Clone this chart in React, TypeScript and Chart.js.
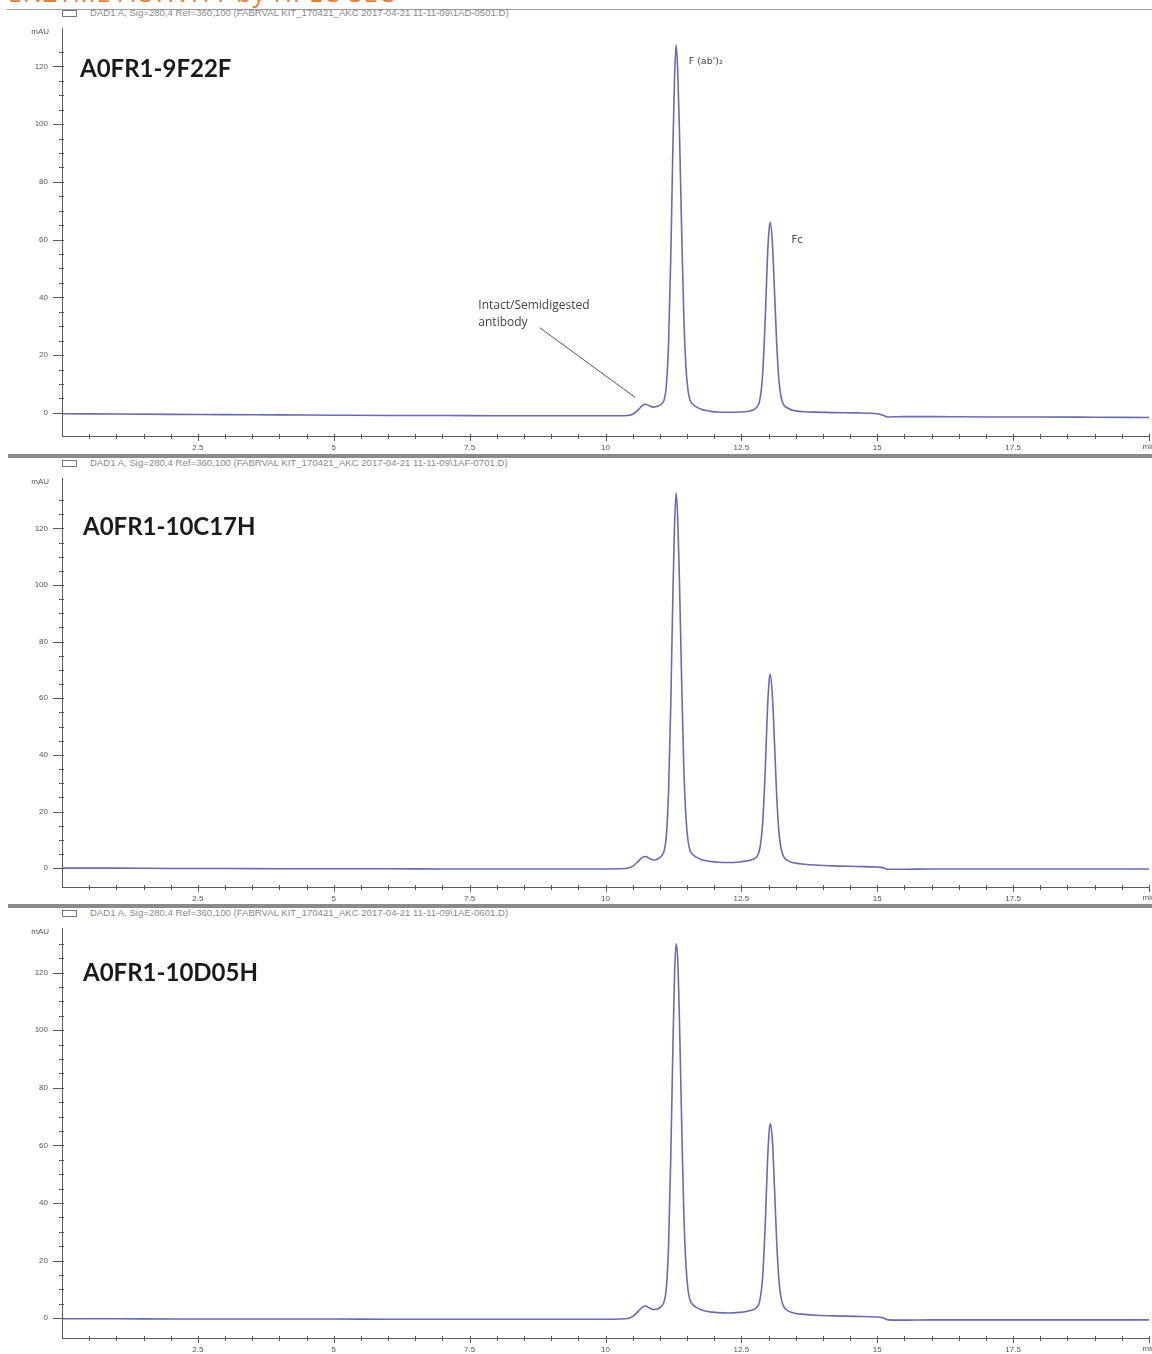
import React, { useEffect, useRef } from 'react';
import { Chart, registerables } from 'chart.js';
Chart.register(...registerables);

// Retention time (min)
const timeMin = [0, 1, 2, 3, 4, 5, 6, 7, 8, 9, 9.8, 10.25, 10.41, 10.51, 10.61, 10.68, 10.74, 10.81, 10.88, 10.94, 11.0, 11.04, 11.08, 11.12, 11.16, 11.2, 11.24, 11.27, 11.3, 11.33, 11.36, 11.4, 11.44, 11.48, 11.52, 11.56, 11.61, 11.66, 11.76, 11.86, 11.96, 12.06, 12.26, 12.46, 12.61, 12.71, 12.78, 12.84, 12.89, 12.94, 12.98, 13.01, 13.03, 13.07, 13.11, 13.15, 13.19, 13.23, 13.28, 13.36, 13.46, 13.66, 13.86, 14.2, 14.6, 15.0, 15.1, 15.2, 15.5, 16, 17, 18, 19, 20];

// Absorbance (mAU) – A0FR1-9F22F
const signal9F22F = [-0.3, -0.4, -0.5, -0.6, -0.7, -0.8, -0.9, -0.9, -1.0, -1.0, -1.0, -1.0, -0.9, -0.4, 1.2, 2.6, 3.0, 2.4, 2.0, 2.2, 2.6, 3.3, 4.6, 9.5, 24, 53, 92, 116, 127.5, 118, 98, 64, 34, 16, 7.5, 4.2, 3.0, 2.2, 1.3, 0.8, 0.45, 0.3, 0.2, 0.3, 0.5, 1.0, 1.9, 4.5, 13, 33, 54, 63.5, 66, 59, 42, 24, 11.5, 5.5, 2.8, 1.6, 0.8, 0.4, 0.25, 0.1, 0, -0.3, -0.8, -1.4, -1.3, -1.3, -1.4, -1.4, -1.5, -1.6];

// Absorbance (mAU) – A0FR1-10C17H
const signal10C17H = [0, 0, -0.1, -0.1, -0.2, -0.2, -0.2, -0.3, -0.3, -0.3, -0.3, -0.2, 0, 0.8, 2.6, 3.8, 4.1, 3.4, 2.9, 3.1, 3.7, 4.6, 6.2, 11.5, 27, 57, 97, 121, 132.5, 123, 102, 67, 36, 18, 9.5, 6, 4.8, 4.0, 3.1, 2.6, 2.3, 2.1, 2.0, 2.2, 2.6, 3.1, 4.0, 7, 15.5, 35, 56, 66, 68.5, 61, 44, 25.5, 13, 7, 4, 2.6, 1.9, 1.4, 1.1, 0.8, 0.6, 0.4, 0.2, -0.4, -0.4, -0.3, -0.3, -0.3, -0.3, -0.3];

// Absorbance (mAU) – A0FR1-10D05H
const signal10D05H = [-0.2, -0.2, -0.3, -0.3, -0.3, -0.3, -0.4, -0.4, -0.4, -0.4, -0.4, -0.3, -0.1, 0.7, 2.5, 3.8, 4.2, 3.5, 3.0, 3.1, 3.6, 4.4, 5.8, 10.5, 25, 55, 94, 119, 130, 124, 104, 69, 37, 18.5, 9.5, 6, 4.6, 3.8, 2.9, 2.4, 2.1, 1.9, 1.8, 2.0, 2.4, 2.9, 3.7, 6.2, 14, 33, 54, 64.5, 67.5, 62, 45, 26.5, 13.5, 7, 4, 2.5, 1.8, 1.3, 1.0, 0.8, 0.6, 0.4, 0.1, -0.6, -0.7, -0.6, -0.6, -0.6, -0.6, -0.6];

const sampleNames = ['A0FR1-9F22F', 'A0FR1-10C17H', 'A0FR1-10D05H'];
const dataFiles = ['1AD-0501.D', '1AF-0701.D', '1AE-0601.D'];
const xMajorLabels = ['2.5', '5', '7.5', '10', '12.5', '15', '17.5'];
const yMajorLabels = ['0', '20', '40', '60', '80', '100', '120'];

const headerPrefix = 'DAD1 A, Sig=280,4 Ref=360,100 (FABRVAL KIT_170421_AKC 2017-04-21 11-11-09\\';

const LINE = '#6a6ab4';
const AXIS = '#5a5a5a';
const TXT = '#555';

type PanelCfg = {
  values: number[];
  yMin: number;
  yMax: number;
  top: number;
  padTop: number;
  xH: number;
  annotate: boolean;
};

const panels: PanelCfg[] = [
  { values: signal9F22F, yMin: -8, yMax: 133, top: 18, padTop: 9.5, xH: 18, annotate: true },
  { values: signal10C17H, yMin: -6.65, yMax: 137.5, top: 468, padTop: 8, xH: 17, annotate: false },
  { values: signal10D05H, yMin: -6.9, yMax: 135.2, top: 918, padTop: 8, xH: 16, annotate: false },
];

const isMult = (v: number, m: number) => Math.abs(v / m - Math.round(v / m)) < 1e-6;

function Panel({ cfg }: { cfg: PanelCfg }) {
  const ref = useRef<HTMLCanvasElement>(null);
  useEffect(() => {
    const canvas = ref.current!;
    const extras = {
      id: 'hplcExtras',
      afterDraw(chart: any) {
        const ctx = chart.ctx as CanvasRenderingContext2D;
        const xs = chart.scales.x;
        const ys = chart.scales.y;
        const area = chart.chartArea;
        ctx.save();
        ctx.strokeStyle = AXIS;
        ctx.lineWidth = 1;
        // y ticks
        ys.ticks.forEach((t: any) => {
          const v = t.value;
          if (!isMult(v, 5)) return;
          const py = Math.round(ys.getPixelForValue(v)) + 0.5;
          const major = isMult(v, 20) && v >= 0;
          ctx.beginPath();
          ctx.moveTo(area.left - (major ? 9 : 3), py);
          ctx.lineTo(area.left + 2, py);
          ctx.stroke();
        });
        // x ticks
        xs.ticks.forEach((t: any) => {
          const v = t.value;
          if (v <= 0) return;
          const px = Math.round(xs.getPixelForValue(v)) + 0.5;
          const major = isMult(v, 2.5);
          ctx.beginPath();
          ctx.moveTo(px, area.bottom - 2);
          ctx.lineTo(px, area.bottom + (major ? 5 : 3));
          ctx.stroke();
        });
        // mAU and min labels
        ctx.fillStyle = TXT;
        ctx.font = '8px "Liberation Sans"';
        ctx.textAlign = 'right';
        ctx.textBaseline = 'middle';
        ctx.fillText('mAU', area.left - 13, area.top + 2.5);
        ctx.textAlign = 'center';
        ctx.textBaseline = 'top';
        ctx.fillText('min', xs.getPixelForValue(20), area.bottom + 7);
        if (cfg.annotate) {
          const X = (v: number) => xs.getPixelForValue(v);
          const Y = (v: number) => ys.getPixelForValue(v);
          ctx.fillStyle = '#444';
          ctx.textAlign = 'left';
          ctx.textBaseline = 'middle';
          ctx.font = '12px "Open Sans"';
          ctx.fillText('Intact/Semidigested', X(7.66), Y(37));
          ctx.fillText('antibody', X(7.66), Y(31.2));
          ctx.strokeStyle = '#555';
          ctx.beginPath();
          ctx.moveTo(X(8.79), Y(29.5));
          ctx.lineTo(X(10.55), Y(5.3));
          ctx.stroke();
          ctx.font = '9.5px "DejaVu Sans"';
          ctx.fillText("F (ab')\u2082", X(11.53), Y(121.7));
          ctx.font = '10px "DejaVu Sans"';
          ctx.fillText('Fc', X(13.42), Y(59.7));
        }
        ctx.restore();
      },
    };
    const chart = new Chart(canvas, {
      type: 'line',
      data: {
        datasets: [
          {
            data: timeMin.map((t, i) => ({ x: t, y: cfg.values[i] })),
            borderColor: LINE,
            borderWidth: 1.6,
            pointRadius: 0,
            fill: false,
            cubicInterpolationMode: 'monotone',
          },
        ],
      },
      options: {
        animation: false,
        responsive: false,
        devicePixelRatio: 1,
        events: [],
        layout: { padding: { top: cfg.padTop, left: 0, right: 0, bottom: 0 } },
        plugins: { legend: { display: false }, tooltip: { enabled: false } },
        scales: {
          x: {
            type: 'linear',
            min: 0,
            max: 20,
            afterFit: (s: any) => { s.height = cfg.xH; },
            border: { color: AXIS, width: 1 },
            grid: { drawOnChartArea: false, drawTicks: true, tickLength: 4, tickColor: 'rgba(0,0,0,0)' },
            ticks: {
              stepSize: 0.5,
              autoSkip: false,
              maxRotation: 0,
              padding: 3,
              color: TXT,
              font: { family: 'Liberation Sans', size: 8 },
              callback: (v: any) => {
                const s = String(v);
                return xMajorLabels.includes(s) ? s : '';
              },
            },
          },
          y: {
            type: 'linear',
            min: cfg.yMin,
            max: cfg.yMax,
            afterFit: (s: any) => { s.width = 62; },
            border: { color: AXIS, width: 1 },
            grid: { drawOnChartArea: false, drawTicks: true, tickLength: 8, tickColor: 'rgba(0,0,0,0)' },
            ticks: {
              stepSize: 5,
              autoSkip: false,
              padding: 6,
              color: TXT,
              font: { family: 'Liberation Sans', size: 8 },
              callback: (v: any) => {
                const s = String(v);
                return yMajorLabels.includes(s) ? s : '';
              },
            },
          },
        },
      } as any,
      plugins: [extras],
    });
    return () => chart.destroy();
  }, [cfg]);
  return (
    <canvas
      ref={ref}
      width={1152}
      height={436}
      style={{ position: 'absolute', left: 0, top: cfg.top, width: 1152, height: 436 }}
    />
  );
}

const headerTops = [9, 459, 909];
const titlePos = [
  { left: 80, top: 53 },
  { left: 83, top: 511 },
  { left: 83, top: 957 },
];

export default function App() {
  return (
    <div style={{ position: 'absolute', left: 0, top: 0, width: 1152, height: 1354, overflow: 'hidden', background: '#fff' }}>
      <div style={{ position: 'absolute', left: 8, top: -20, fontFamily: '"Open Sans", sans-serif', fontSize: 25, lineHeight: '25px', color: '#ED7D31', whiteSpace: 'nowrap', letterSpacing: 1 }}>
        ENZYME ACTIVITY by HPLC-SEC
      </div>
      <div style={{ position: 'absolute', left: 7, right: 0, top: 9, height: 1, background: '#9a9a9a' }} />
      <div style={{ position: 'absolute', left: 8, right: 0, top: 454, height: 4, background: '#8a8a8a' }} />
      <div style={{ position: 'absolute', left: 8, right: 0, top: 904, height: 4, background: '#8a8a8a' }} />
      {panels.map((p, i) => (
        <Panel key={i} cfg={p} />
      ))}
      {headerTops.map((t, i) => (
        <React.Fragment key={'h' + i}>
          <div style={{ position: 'absolute', left: 62, top: t + 1, width: 13, height: 5, border: '1px solid #777', background: '#fff' }} />
          <div style={{ position: 'absolute', left: 90, top: t - 1, fontFamily: '"Liberation Sans", sans-serif', fontSize: 9.6, lineHeight: '10px', color: '#8a8a8a', whiteSpace: 'nowrap' }}>
            {headerPrefix + dataFiles[i] + ')'}
          </div>
        </React.Fragment>
      ))}
      {sampleNames.map((n, i) => (
        <div key={'t' + i} style={{ position: 'absolute', left: titlePos[i].left, top: titlePos[i].top, fontFamily: 'Lato, "Open Sans", sans-serif', fontWeight: 700, fontSize: 24, lineHeight: '30px', color: '#1a1a1a', whiteSpace: 'nowrap' }}>
          {n}
        </div>
      ))}
    </div>
  );
}
